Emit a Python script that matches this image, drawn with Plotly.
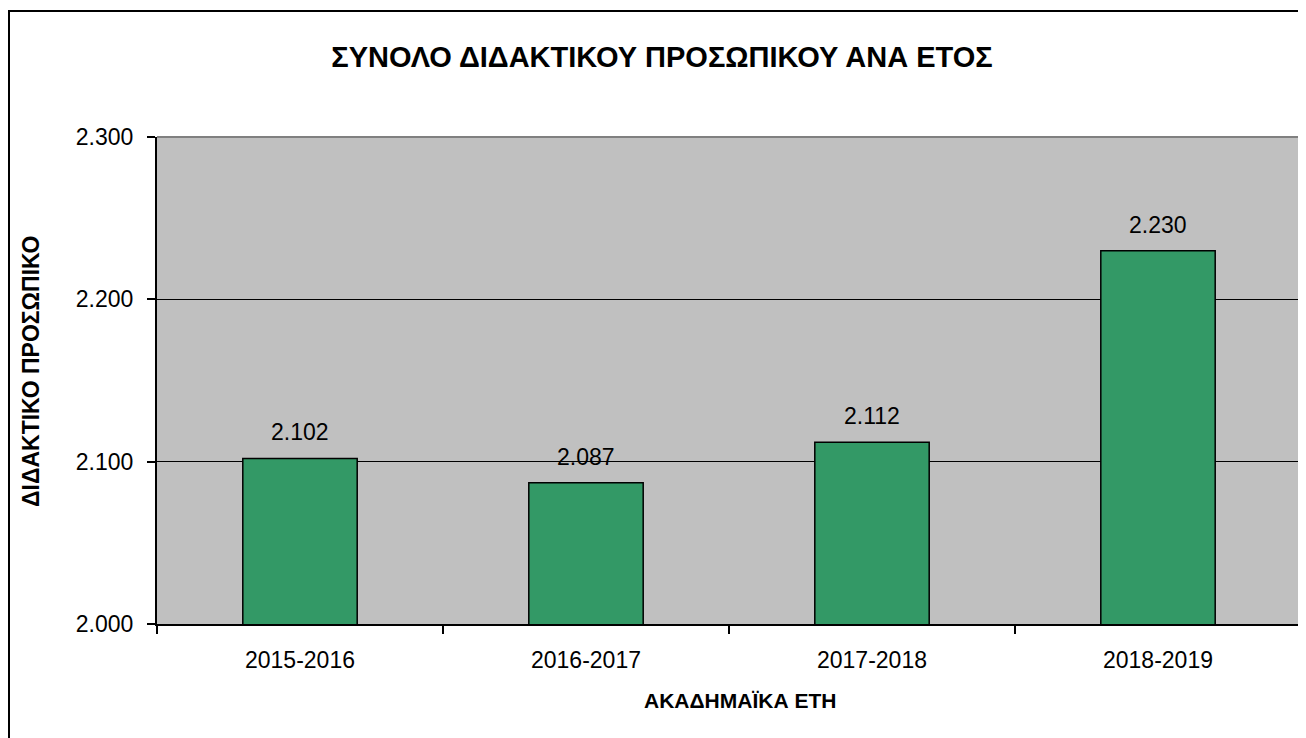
import plotly.graph_objects as go

years = ["2015-2016", "2016-2017", "2017-2018", "2018-2019"]
staff = [2102, 2087, 2112, 2230]
y_ticks = [2000, 2100, 2200, 2300]

OFF = 8  # default body margin of the page
W, H = 1306 - OFF, 738 - OFF
L, R, T, B = 157 - OFF, 5, 137 - OFF, 114
pw, ph = W - L - R, H - T - B

def px_x(x):
    return (x - OFF - L) / pw

def px_y(y):
    return (H - B - (y - OFF)) / ph

font = "Liberation Sans, Arial, sans-serif"

fig = go.Figure(go.Bar(
    x=years, y=staff,
    marker=dict(color="#339966", line=dict(color="black", width=1.5)),
    width=0.4,
    hoverinfo="x+y",
))

labels = [
    dict(x=yr, y=v, xref="x", yref="y", text=f"{v:,d}".replace(",", "."),
         showarrow=False, yanchor="middle", yshift=26,
         font=dict(family=font, size=23, color="black"))
    for yr, v in zip(years, staff)
]

fig.update_layout(
    width=W, height=H,
    margin=dict(l=L, r=R, t=T, b=B),
    paper_bgcolor="white", plot_bgcolor="#C0C0C0",
    separators=",.",
    showlegend=False,
    font=dict(family=font, color="black"),
    title=dict(text="<b>ΣΥΝΟΛΟ ΔΙΔΑΚΤΙΚΟΥ ΠΡΟΣΩΠΙΚΟΥ ΑΝΑ ΕΤΟΣ</b>",
               x=(662 - OFF) / W, xanchor="center", y=1 - (57 - OFF) / H, yanchor="middle",
               font=dict(family=font, size=29, color="black")),
    xaxis=dict(type="category", tickson="boundaries", ticks="outside", ticklen=8,
               tickcolor="black", tickwidth=1.5, showline=True, linecolor="black",
               linewidth=2, showgrid=False, ticklabelstandoff=14,
               tickfont=dict(size=23, family=font)),
    yaxis=dict(range=[y_ticks[0], y_ticks[-1]], tickvals=y_ticks, tickformat=",d",
               ticks="outside", ticklen=8, tickcolor="black", tickwidth=1.5,
               showline=True, linecolor="black", linewidth=2, ticklabelstandoff=9,
               showgrid=True, gridcolor="black", gridwidth=1.2, zeroline=False,
               tickfont=dict(size=23, family=font)),
    annotations=labels + [
        dict(text="<b>ΔΙΔΑΚΤΙΚΟ ΠΡΟΣΩΠΙΚΟ</b>", xref="paper", yref="paper",
             x=px_x(31), y=px_y(372), textangle=-90, showarrow=False,
             xanchor="center", yanchor="middle", font=dict(family=font, size=23)),
        dict(text="<b>ΑΚΑΔΗΜΑΪΚΑ ΕΤΗ</b>", xref="paper", yref="paper",
             x=px_x(740), y=px_y(700), showarrow=False,
             xanchor="center", yanchor="middle", font=dict(family=font, size=21)),
    ],
    shapes=[
        dict(type="line", xref="paper", yref="paper", x0=0, x1=1, y0=1, y1=1,
             line=dict(color="#808080", width=2)),
        dict(type="line", xref="paper", yref="paper", x0=1, x1=1, y0=0, y1=1,
             line=dict(color="#808080", width=2)),
        dict(type="rect", xref="paper", yref="paper",
             x0=px_x(9), x1=px_x(1400), y0=px_y(800), y1=px_y(11),
             line=dict(color="black", width=2), fillcolor="rgba(0,0,0,0)", layer="above"),
    ],
)

fig.write_html("out.html")
